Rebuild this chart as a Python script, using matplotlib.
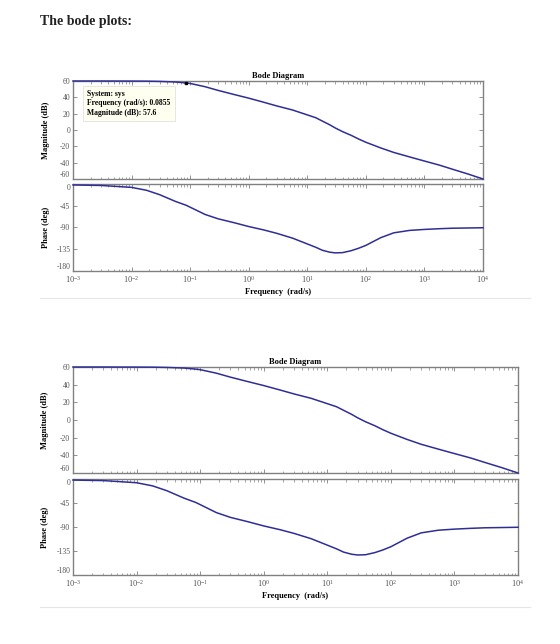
import matplotlib
matplotlib.use("Agg")
from matplotlib import pyplot as plt
from matplotlib.lines import Line2D
from matplotlib.ticker import LogLocator, NullFormatter, LogFormatterSciNotation

# frequency response (rad/s, dB, deg)
freq = [0.001, 0.003, 0.01, 0.018, 0.03, 0.056, 0.0855, 0.1, 0.18, 0.3, 0.56,
        1, 1.8, 3, 5.6, 10, 14, 18, 24, 30, 40, 56, 75, 100, 180, 300, 560,
        1000, 1800, 3000, 5600, 10000]
magnitude_db = [60, 60, 59.9, 59.8, 59.5, 58.8, 57.6, 57, 53, 48.5, 43.5,
                39, 34, 29.5, 24.5, 18.5, 15, 11, 6.5, 2.5, -2, -6.5, -11, -15, -22, -27.5, -33,
                -38, -43, -48, -54, -60]
phase_deg = [-2, -3, -7, -13, -22, -36, -44, -48, -63, -72, -80,
             -88, -95, -102, -112, -124, -131, -137, -141, -142.5, -142, -138, -133, -127, -111, -101, -96,
             -94, -92.5, -91.5, -91, -90.5]

mag_ticks = [60, 40, 20, 0, -20, -40, -60]
phase_ticks = [0, -45, -90, -135, -180]

tip_freq = 0.0855
tip_mag = 57.6

W, H = 560, 644
LINE = "#2e2e96"
GRAY = "#808080"
plt.rcParams["font.family"] = ["Liberation Serif", "DejaVu Serif"]
plt.rcParams["mathtext.fontset"] = "stix"
plt.rcParams["axes.unicode_minus"] = False


def rect(l, t, r, b):
    return [l / W, 1 - b / H, (r - l) / W, (b - t) / H]


def style(ax, yticks, ylim, show_x):
    ax.set_xscale("log")
    ax.set_xlim(1e-3, 1e4)
    ax.set_ylim(*ylim)
    ax.set_yticks(yticks)
    ax.xaxis.set_major_locator(LogLocator(base=10, numticks=20))
    ax.xaxis.set_minor_locator(LogLocator(base=10, subs=range(2, 10), numticks=20))
    ax.xaxis.set_minor_formatter(NullFormatter())
    if show_x:
        ax.xaxis.set_major_formatter(LogFormatterSciNotation())
    else:
        ax.xaxis.set_major_formatter(NullFormatter())
    ax.tick_params(which="both", direction="in", top=True, right=True,
                   color=GRAY, labelcolor="#555555", labelsize=5.5, pad=2)
    ax.tick_params(axis="x", labelsize=6)
    ax.tick_params(which="major", length=3, width=0.6)
    ax.tick_params(which="minor", length=1.8, width=0.5)
    for s in ax.spines.values():
        s.set_color(GRAY)
        s.set_linewidth(1.0)


def bode(l, r, mag_t, mag_b, ph_t, ph_b, tip):
    ax_m = fig.add_axes(rect(l, mag_t, r, mag_b))
    ax_p = fig.add_axes(rect(l, ph_t, r, ph_b))
    ax_m.plot(freq, magnitude_db, color=LINE, lw=1.1, zorder=3, clip_on=False)
    ax_p.plot(freq, phase_deg, color=LINE, lw=1.1, zorder=3, clip_on=False)
    style(ax_m, mag_ticks, (-60, 60), False)
    style(ax_p, phase_ticks, (-180, 0), True)
    # keep the shared-edge labels from running into each other
    fig.canvas.draw()
    ax_m.get_yticklabels()[-1].set_va("bottom")
    ax_p.get_yticklabels()[0].set_va("top")
    ax_p.get_yticklabels()[-1].set_va("bottom")
    ax_m.set_title("Bode Diagram", fontsize=6, fontweight="bold", pad=2)
    ax_m.set_ylabel("Magnitude (dB)", fontsize=6, fontweight="bold", labelpad=3)
    ax_p.set_ylabel("Phase (deg)", fontsize=6, fontweight="bold", labelpad=3)
    ax_p.set_xlabel("Frequency  (rad/s)", fontsize=6, fontweight="bold", labelpad=2)
    ax_m.yaxis.set_label_coords(-0.055, 0.5)
    ax_p.yaxis.set_label_coords(-0.055, 0.5)
    if tip:
        ax_m.plot([tip_freq], [tip_mag], marker="s", ms=2, color="black", zorder=4,
                  clip_on=False)
        ax_m.text(0.035, 0.91,
                  "System: sys\nFrequency (rad/s): %s\nMagnitude (dB): %s" % (tip_freq, tip_mag),
                  transform=ax_m.transAxes, va="top", ha="left", fontsize=5.5,
                  fontweight="bold", linespacing=1.25,
                  bbox=dict(boxstyle="square,pad=0.55", fc="#fffff0", ec="#dcdcdc", lw=0.5))


fig = plt.figure(figsize=(W / 100, H / 100), dpi=100)
fig.text(40 / W, 1 - 22 / H, "The bode plots:", fontsize=10, fontweight="bold",
         va="center", ha="left", color="#222222")

bode(73, 483, 81, 179, 184, 271, True)
bode(73, 518, 367, 473, 479, 575, False)

for y in (298, 607):
    fig.add_artist(Line2D([40 / W, 530 / W], [1 - y / H, 1 - y / H],
                          color="#e6e6e6", lw=0.8))

fig.savefig("out.png", dpi=100)
plt.close(fig)
